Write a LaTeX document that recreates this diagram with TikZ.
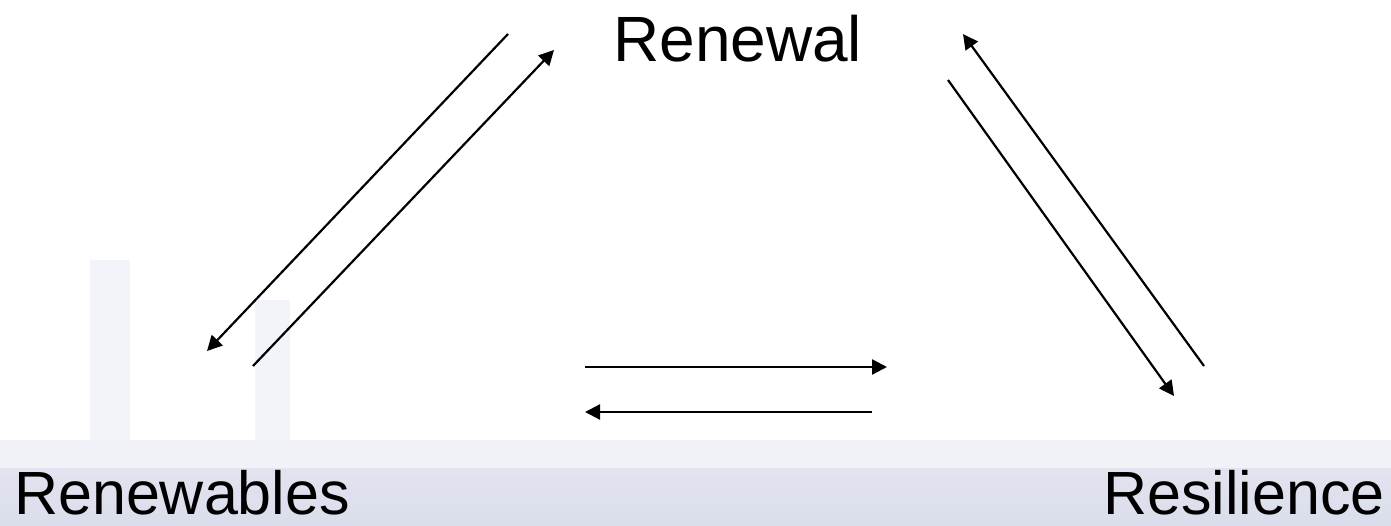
\documentclass[tikz,border=0pt]{standalone}
\usepackage{fontspec}
\setmainfont{Liberation Sans}
\usetikzlibrary{arrows.meta}
\definecolor{bandlow}{RGB}{218,221,235}
\definecolor{bandhigh}{RGB}{240,242,248}
\definecolor{ghost}{RGB}{243,244,250}
\begin{document}
\begin{tikzpicture}[x=1pt,y=-1pt,
  arr/.style={line width=2.2pt,-{Triangle[length=15pt,width=15pt]}},
  toplbl/.style={inner sep=0pt,font=\fontsize{64}{70}\selectfont},
  botlbl/.style={inner sep=0pt,font=\fontsize{61}{70}\selectfont}]
\useasboundingbox (0,0) rectangle (1391,526);
\fill[white] (0,0) rectangle (1391,526);
% faint background photo
\fill[ghost] (90,260) rectangle (130,470);
\fill[ghost] (255,300) rectangle (290,470);
\draw[ghost,line width=4pt] (180,470) arc[start angle=180,end angle=60,radius=260];
\draw[ghost,line width=4pt] (230,470) arc[start angle=180,end angle=70,radius=200];
\fill[ghost] (330,470) arc[start angle=180,end angle=0,radius=75];
\fill[bandhigh] (0,440) rectangle (1391,468);
\shade[top color=bandlow!80!white,bottom color=bandlow] (0,468) rectangle (1391,526);
% labels
\node[toplbl,anchor=base west] (renewal) at (613,62) {Renewal};
\node[botlbl,anchor=base west] (renewables) at (14,514) {Renewables};
\node[botlbl,anchor=base east] (resilience) at (1385,514) {Resilience};
% arrow end points
\coordinate (a1s) at (508,34);  \coordinate (a1e) at (207,351);
\coordinate (a2s) at (253,366); \coordinate (a2e) at (554,50);
\coordinate (a3s) at (1204,366);\coordinate (a3e) at (963,34);
\coordinate (a4s) at (948,80);  \coordinate (a4e) at (1174,396);
\coordinate (a5s) at (585,367); \coordinate (a5e) at (887,367);
\coordinate (a6s) at (872,412); \coordinate (a6e) at (585,412);
\draw[arr] (a1s) -- (a1e);
\draw[arr] (a2s) -- (a2e);
\draw[arr] (a3s) -- (a3e);
\draw[arr] (a4s) -- (a4e);
\draw[arr] (a5s) -- (a5e);
\draw[arr] (a6s) -- (a6e);
\end{tikzpicture}
\end{document}
